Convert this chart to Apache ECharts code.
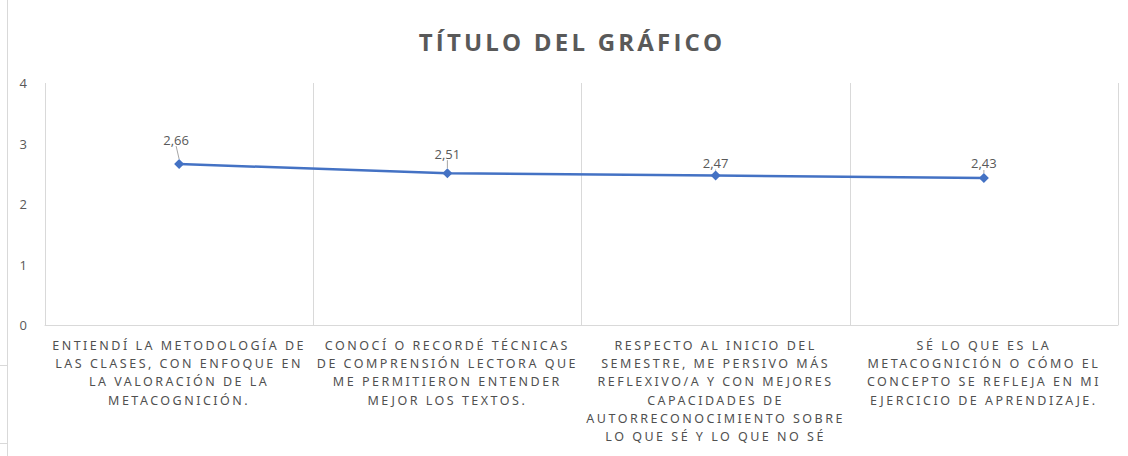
<!DOCTYPE html>
<html>
<head>
<meta charset="utf-8">
<script src="https://cdn.jsdelivr.net/npm/echarts@6/dist/echarts.min.js"></script>
<style>
html, body { margin: 0; padding: 0; background: #fff; }
#main { width: 1128px; height: 456px; }
/* spread the letters like the original office chart */
#main text[style*="bold"] { letter-spacing: 3.2px; }
#main text[style*="Noto Sans"] { letter-spacing: 2.5px; }
</style>
</head>
<body>
<div id="main"></div>
<script>
var categories = [
    'ENTIENDÍ LA METODOLOGÍA DE\nLAS CLASES, CON ENFOQUE EN\nLA VALORACIÓN DE LA\nMETACOGNICIÓN.',
    'CONOCÍ O RECORDÉ TÉCNICAS\nDE COMPRENSIÓN LECTORA QUE\nME PERMITIERON ENTENDER\nMEJOR LOS TEXTOS.',
    'RESPECTO AL INICIO DEL\nSEMESTRE, ME PERSIVO MÁS\nREFLEXIVO/A Y CON MEJORES\nCAPACIDADES DE\nAUTORRECONOCIMIENTO SOBRE\nLO QUE SÉ Y LO QUE NO SÉ',
    'SÉ LO QUE ES LA\nMETACOGNICIÓN O CÓMO EL\nCONCEPTO SE REFLEJA EN MI\nEJERCICIO DE APRENDIZAJE.'
];
var values = [2.66, 2.51, 2.47, 2.43];
var yTicks = [0, 1, 2, 3, 4];

var chartDom = document.getElementById('main');
var myChart = echarts.init(chartDom, null, { renderer: 'svg' });
// label nudges so the callouts sit where the original put them
var labelShiftX = [-3, 0, 0, 0];
var labelShiftY = [-7, -2, 5, 3];

var option = {
    backgroundColor: '#ffffff',
    animation: false,
    title: {
        text: 'TÍTULO DEL GRÁFICO',
        left: 567,
        top: 24,
        textAlign: 'center',
        textStyle: {
            fontFamily: 'Open Sans',
            fontWeight: 'bold',
            fontSize: 24,
            color: '#595959'
        }
    },
    grid: {
        left: 45,
        right: 10,
        top: 83,
        bottom: 131
    },
    xAxis: {
        type: 'category',
        data: categories,
        boundaryGap: true,
        axisLine: { show: true, lineStyle: { color: '#d9d9d9', width: 1 } },
        axisTick: { show: false },
        splitLine: { show: true, lineStyle: { color: '#d9d9d9', width: 1 } },
        axisLabel: {
            interval: 0,
            margin: 11,
            fontFamily: 'Noto Sans',
            fontSize: 12.5,
            lineHeight: 18.3,
            color: '#505050',
            align: 'center'
        }
    },
    yAxis: {
        type: 'value',
        min: yTicks[0],
        max: yTicks[yTicks.length - 1],
        interval: 1,
        axisLine: { show: false },
        axisTick: { show: false },
        splitLine: { show: false },
        axisLabel: {
            margin: 18,
            fontFamily: 'Open Sans',
            fontSize: 13,
            color: '#595959'
        }
    },
    series: [
        {
            type: 'line',
            data: values,
            symbol: 'diamond',
            symbolSize: 10,
            lineStyle: { color: '#4472c4', width: 2.5 },
            itemStyle: { color: '#4472c4' },
            label: {
                show: true,
                position: 'top',
                distance: 6,
                fontFamily: 'Open Sans',
                fontSize: 13,
                color: '#595959',
                formatter: function (p) {
                    return p.value.toFixed(2).replace('.', ',');
                }
            },
            labelLine: {
                show: true,
                lineStyle: { color: '#a6a6a6', width: 1 }
            },
            labelLayout: function (params) {
                return {
                    dx: labelShiftX[params.dataIndex],
                    dy: labelShiftY[params.dataIndex]
                };
            }
        }
    ],
    graphic: [
        {
            type: 'line',
            shape: { x1: 7.5, y1: 0, x2: 7.5, y2: 456 },
            style: { stroke: '#d9d9d9', lineWidth: 1 }
        },
        {
            type: 'line',
            shape: { x1: 0, y1: 365.5, x2: 7, y2: 365.5 },
            style: { stroke: '#d9d9d9', lineWidth: 1 }
        },
        {
            type: 'line',
            shape: { x1: 0, y1: 443.5, x2: 7, y2: 443.5 },
            style: { stroke: '#d9d9d9', lineWidth: 1 }
        }
    ]
};

option && myChart.setOption(option);
</script>
</body>
</html>
